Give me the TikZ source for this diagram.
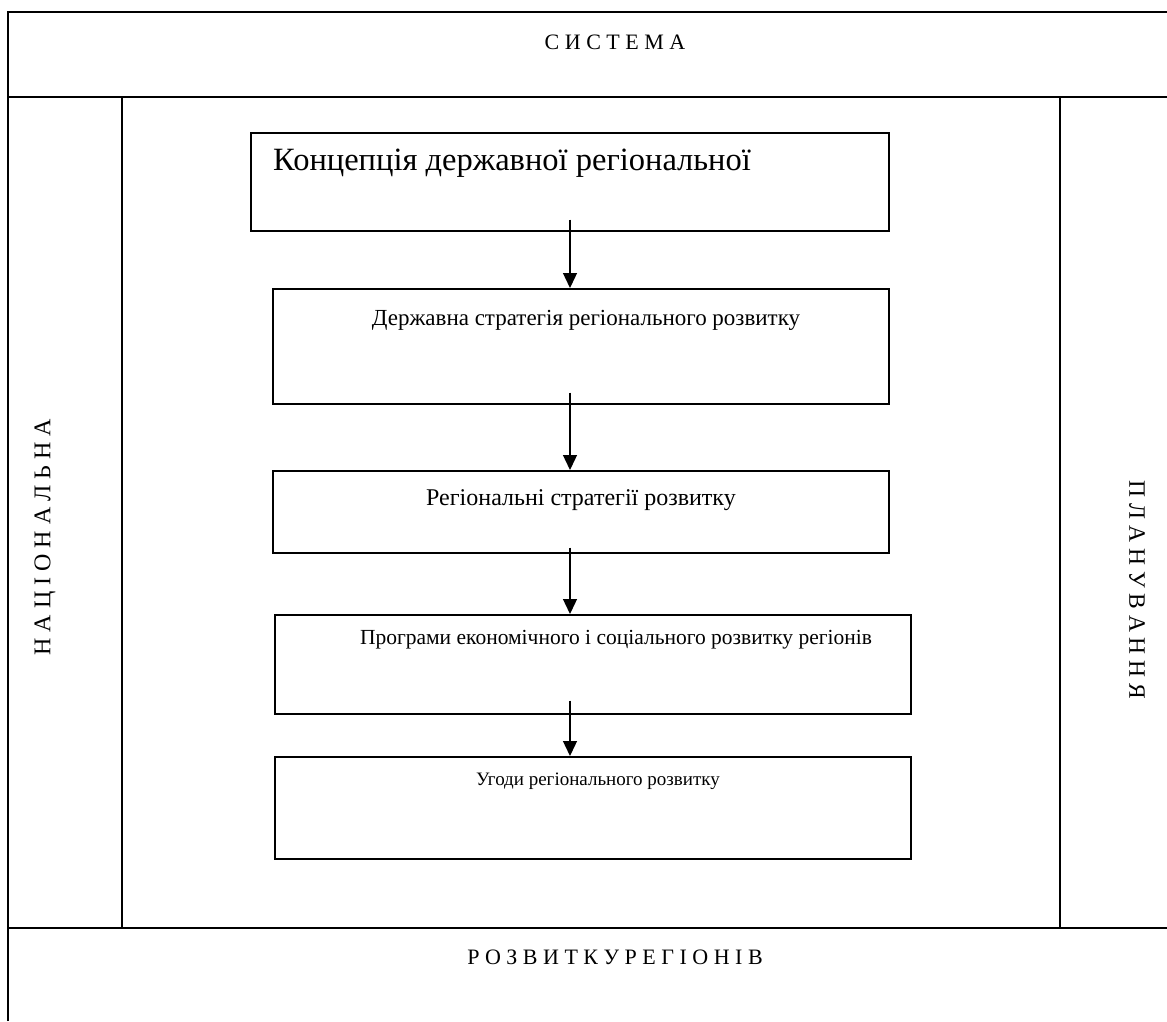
\documentclass[tikz,border=0pt]{standalone}
\usepackage{fontspec}
\setmainfont{Liberation Serif}
\usetikzlibrary{arrows.meta, positioning}

\tikzset{
  stage/.style={draw, line width=1.6pt, inner sep=0pt, anchor=north west},
  note/.style={inner sep=0pt, font=\fontsize{22}{26}\selectfont},
  caps/.style={inner sep=0pt, font=\fontsize{22}{26}\selectfont},
  flow/.style={-{Triangle[width=14pt,length=15pt]}, line width=1.3pt},
  frame/.style={line width=1.8pt},
}

\begin{document}
\begin{tikzpicture}[x=1pt, y=-1pt]
    \useasboundingbox (0,0) rectangle (1167,1021);
    % outer frame
    \draw[frame] (8,1021) -- (8,12) -- (1167,12);
    \draw[frame] (8,97) -- (1167,97);
    \draw[frame] (8,928) -- (1167,928);
    \draw[line width=1.3pt] (122,97) -- (122,928);
    \draw[line width=1.3pt] (1060,97) -- (1060,928);

    \node[caps] (title) at (615,42) {С И С Т Е М А};
    \node[caps] (footer) at (615,957) {Р О З В И Т К У Р Е Г І О Н І В};
    \node[caps, rotate=90, font=\fontsize{24}{28}\selectfont] (national) at (45,537) {Н А Ц І О Н А Л Ь Н А};
    \node[caps, rotate=-90, font=\fontsize{23.5}{28}\selectfont] (planning) at (1137,590) {П Л А Н У В А Н Н Я};

    % boxes
    \node[stage, minimum width=638pt, minimum height=98pt] (concept) at (250,132) {};
    \node[stage, minimum width=616pt, minimum height=115pt] (statestr) at (272,288) {};
    \node[stage, minimum width=616pt, minimum height=82pt] (regstr) at (272,470) {};
    \node[stage, minimum width=636pt, minimum height=99pt] (progs) at (274,614) {};
    \node[stage, minimum width=636pt, minimum height=102pt] (deals) at (274,756) {};

    \node[note, anchor=west, font=\fontsize{32.5}{37}\selectfont] (conceptTxt) at (273,163) {Концепція державної регіональної};
    \node[note, font=\fontsize{23}{27}\selectfont] (statestrTxt) at (586,320) {Державна стратегія регіонального розвитку};
    \node[note, font=\fontsize{24}{28}\selectfont] (regstrTxt) at (581,500) {Регіональні стратегії розвитку};
    \node[note, font=\fontsize{21.5}{26}\selectfont] (progsTxt) at (616,640) {Програми економічного і соціального розвитку регіонів};
    \node[note, font=\fontsize{19}{23}\selectfont] (dealsTxt) at (598,781) {Угоди регіонального розвитку};

    % arrows
    \coordinate (spine) at (570,0);
    \draw[flow] ([yshift=12pt]concept.south -| spine) -- (statestr.north -| spine);
    \draw[flow] ([yshift=12pt]statestr.south -| spine) -- (regstr.north -| spine);
    \draw[flow] ([yshift=6pt]regstr.south -| spine) -- (progs.north -| spine);
    \draw[flow] ([yshift=14pt]progs.south -| spine) -- (deals.north -| spine);
\end{tikzpicture}
\end{document}
